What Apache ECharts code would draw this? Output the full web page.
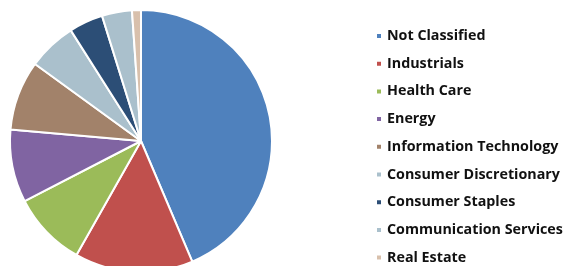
<!DOCTYPE html>
<html>
<head>
<meta charset="utf-8">
<script src="https://cdn.jsdelivr.net/npm/echarts@6/dist/echarts.min.js"></script>
<style>
    html, body { margin: 0; padding: 0; background: #fff; }
    #chart { width: 565px; height: 266px; }
</style>
</head>
<body>
<div id="chart"></div>
<script>
    var sectors = ['Not Classified', 'Industrials', 'Health Care', 'Energy', 'Information Technology',
        'Consumer Discretionary', 'Consumer Staples', 'Communication Services', 'Real Estate'];
    var weights = [43.6, 14.6, 9.2, 9.0, 8.6, 6.0, 4.2, 3.7, 1.1];
    var colors = ['#4F81BD', '#C0504D', '#9BBB59', '#8064A2', '#A2826A',
        '#AAC0CC', '#2C4E76', '#AAC0CC', '#D8C0AC'];

    var chart = echarts.init(document.getElementById('chart'));
    var data = sectors.map(function (s, i) {
        return { name: s, value: weights[i], itemStyle: { color: colors[i] } };
    });

    chart.setOption({
        animation: false,
        legend: {
            orient: 'vertical',
            left: 375,
            top: 28,
            padding: 0,
            height: 300,
            itemWidth: 6,
            itemHeight: 6,
            itemGap: 11.7,
            icon: 'rect',
            textStyle: {
                fontFamily: 'Open Sans',
                fontWeight: 'bold',
                fontSize: 14.3,
                color: '#111',
                lineHeight: 16
            },
            data: sectors
        },
        series: [{
            type: 'pie',
            center: [141, 141],
            radius: 131,
            startAngle: 90,
            clockwise: true,
            label: { show: false },
            labelLine: { show: false },
            itemStyle: { borderColor: '#fff', borderWidth: 2 },
            data: data
        }]
    });
</script>
</body>
</html>
